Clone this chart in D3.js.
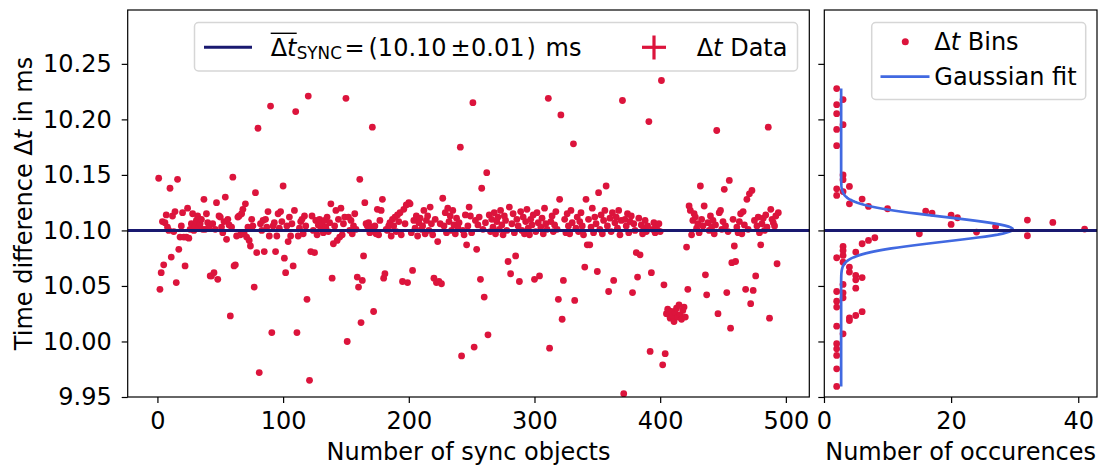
<!DOCTYPE html>
<html>
<head>
<meta charset="utf-8">
<script src="https://cdn.jsdelivr.net/npm/d3@7"></script>
<style>
    body { margin: 0; background: #fff; }
    svg text { font-family: "DejaVu Sans", sans-serif; fill: #000; }
</style>
</head>
<body>
<div id="chart"></div>
<script>
// time difference per sync object (ms), x = 1..N
const syncValues = [
    10.147, 10.047, 10.062, 10.108, 10.069, 10.107, 10.114, 10.103, 10.100, 10.138,
    10.076, 10.113, 10.099, 10.117, 10.053, 10.146, 10.083, 10.094, 10.104, 10.116,
    10.094, 10.068, 10.094, 10.120, 10.093, 10.101, 10.106, 10.115, 10.100, 10.104,
    10.109, 10.113, 10.103, 10.106, 10.110, 10.101, 10.128, 10.101, 10.115, 10.107,
    10.103, 10.059, 10.059, 10.106, 10.062, 10.101, 10.125, 10.056, 10.113, 10.112,
    10.103, 10.098, 10.108, 10.130, 10.092, 10.110, 10.105, 10.023, 10.103, 10.148,
    10.068, 10.069, 10.095, 10.112, 10.113, 10.096, 10.115, 10.119, 10.097, 10.124,
    10.094, 10.103, 10.091, 10.086, 10.110, 10.104, 10.049, 10.134, 10.080, 10.192,
    9.972, 10.106, 10.100, 10.109, 10.081, 10.110, 10.103, 10.117, 10.095, 10.212,
    10.008, 10.104, 10.107, 10.081, 10.095, 10.115, 10.102, 10.117, 10.108, 10.140,
    10.075, 10.062, 10.104, 10.090, 10.112, 10.095, 10.106, 10.068, 10.118, 10.207,
    10.008, 10.095, 10.102, 10.108, 10.110, 10.097, 10.113, 10.104, 10.038, 10.221,
    9.965, 10.081, 10.113, 10.100, 10.080, 10.109, 10.096, 10.105, 10.110, 10.101,
    10.106, 10.098, 10.109, 10.103, 10.112, 10.099, 10.107, 10.124, 10.057, 10.088,
    10.104, 10.118, 10.091, 10.110, 10.094, 10.120, 10.096, 10.106, 10.112, 10.219,
    10.000, 10.112, 10.100, 10.109, 10.097, 10.104, 10.115, 10.101, 10.058, 10.049,
    10.146, 10.017, 10.055, 10.077, 10.125, 10.106, 10.104, 10.107, 10.098, 10.103,
    10.193, 10.027, 10.104, 10.097, 10.119, 10.096, 10.109, 10.118, 10.128, 10.057,
    10.061, 10.101, 10.100, 10.104, 10.107, 10.095, 10.110, 10.104, 10.112, 10.099,
    10.114, 10.108, 10.116, 10.096, 10.054, 10.119, 10.106, 10.123, 10.053, 10.125,
    10.124, 10.098, 10.064, 10.109, 10.102, 10.113, 10.095, 10.107, 10.111, 10.101,
    10.104, 10.118, 10.097, 10.109, 10.113, 10.100, 10.121, 10.106, 10.096, 10.057,
    10.110, 10.053, 10.090, 10.054, 10.106, 10.052, 10.129, 10.104, 10.116, 10.098,
    10.120, 10.108, 10.113, 10.100, 10.118, 10.105, 10.097, 10.111, 10.103, 10.107,
    10.175, 9.987, 10.100, 10.096, 10.114, 10.087, 10.104, 10.121, 10.113, 10.098,
    10.215, 9.995, 10.109, 10.083, 10.105, 10.112, 10.056, 10.138, 10.101, 10.040,
    10.107, 10.152, 10.006, 10.114, 10.099, 10.110, 10.103, 10.116, 10.097, 10.108,
    10.112, 10.101, 10.118, 10.105, 10.096, 10.113, 10.109, 10.100, 10.072, 10.121,
    10.061, 10.106, 10.115, 10.098, 10.077, 10.110, 10.104, 10.054, 10.117, 10.100,
    10.112, 10.097, 10.108, 10.119, 10.102, 10.096, 10.110, 10.105, 10.114, 10.056,
    10.099, 10.116, 10.107, 10.059, 10.103, 10.111, 10.097, 10.120, 10.106, 10.101,
    10.219, 9.994, 10.108, 10.113, 10.099, 10.105, 10.117, 10.101, 10.038, 10.128,
    10.204, 10.020, 10.055, 10.110, 10.098, 10.115, 10.104, 10.097, 10.118, 10.107,
    10.178, 10.037, 10.102, 10.112, 10.099, 10.108, 10.116, 10.104, 10.096, 10.067,
    10.128, 10.087, 10.110, 10.087, 10.103, 10.120, 10.098, 10.112, 10.106, 10.063,
    10.134, 10.101, 10.114, 10.097, 10.109, 10.118, 10.140, 10.104, 10.045, 10.111,
    10.099, 10.116, 10.055, 10.107, 10.112, 10.102, 10.118, 10.096, 10.109, 10.217,
    9.953, 10.110, 10.104, 10.115, 10.098, 10.108, 10.113, 10.044, 10.106, 10.100,
    10.080, 10.058, 10.111, 10.078, 10.105, 10.097, 10.102, 10.109, 10.099, 10.104,
    10.198, 9.991, 10.062, 10.101, 10.107, 10.098, 10.103, 10.100, 10.106, 10.099,
    10.235, 9.979, 10.051, 9.989, 10.025, 10.029, 10.024, 10.021, 10.027, 10.023,
    10.018, 10.026, 10.030, 10.022, 10.033, 10.024, 10.020, 10.028, 10.031, 10.022,
    10.085, 10.047, 10.122, 10.118, 10.096, 10.109, 10.115, 10.112, 10.102, 10.106,
    10.098, 10.140, 10.110, 10.104, 10.122, 10.060, 10.042, 10.107, 10.100, 10.113,
    10.103, 10.109, 10.097, 10.105, 10.190, 10.025, 10.116, 10.118, 10.101, 10.108,
    10.137, 10.104, 10.044, 10.099, 10.145, 10.012, 10.071, 10.110, 10.086, 10.072,
    10.103, 10.098, 10.108, 10.115, 10.097, 10.117, 10.105, 10.047, 10.128, 10.101,
    10.133, 10.034, 10.136, 10.046, 10.109, 10.059, 10.104, 10.112, 10.098, 10.087,
    10.106, 10.111, 10.100, 10.114, 10.103, 10.193, 10.021, 10.119, 10.110, 10.107,
    10.104, 10.113, 10.070, 10.116
];

// histogram bins (centre in ms, number of occurences)
const binCenters = [
    10.2277, 10.2178, 10.2132, 10.2051, 10.1952, 10.1910, 10.1763, 10.1500, 10.1457, 10.1396,
    10.1375, 10.1350, 10.1315, 10.1282, 10.1240, 10.1216, 10.1195, 10.1174, 10.1156, 10.1138,
    10.1114, 10.1093, 10.1072, 10.1054, 10.1036, 10.1012, 10.0985, 10.0970, 10.0952, 10.0934,
    10.0910, 10.0880, 10.0856, 10.0820, 10.0805, 10.0775, 10.0754, 10.0714, 10.0670, 10.0625,
    10.0595, 10.0575, 10.0555, 10.0514, 10.0480, 10.0450, 10.0438, 10.0393, 10.0363, 10.0310,
    10.0268, 10.0234, 10.0213, 10.0189, 10.0138, 10.0069, 9.9980, 9.9934, 9.9874, 9.9754,
    9.9595
];
const binCounts = [
    2, 3, 2, 2, 3, 2, 2, 3, 3, 4,
    2, 3, 2, 6, 4, 7, 10, 16, 17, 20,
    21, 32, 36, 20, 27, 41, 24, 15, 32, 8,
    7, 6, 3, 3, 5, 3, 2, 3, 4, 4,
    5, 6, 5, 3, 5, 2, 3, 3, 2, 2,
    6, 5, 4, 4, 2, 3, 2, 2, 2, 2,
    2
];

// mean line and gaussian fit parameters
const meanSync = 10.10;
const fitOffset = 2.7, fitAmplitude = 27.0, fitMean = 10.101, fitSigma = 0.011;

const yTicks = [9.95, 10.00, 10.05, 10.10, 10.15, 10.20, 10.25];
const xTicksMain = [0, 100, 200, 300, 400, 500];
const xTicksHist = [0, 20, 40];

const width = 1099, height = 465;
const mainBox = {left: 127.7, right: 809.3, top: 10, bottom: 397};
const histBox = {left: 824.3, right: 1097, top: 10, bottom: 397};
const fontSize = 24;
const dotColor = '#dc143c', meanColor = '#191970', fitColor = '#4169e1';

const svg = d3.select('#chart').append('svg')
    .attr('width', width)
    .attr('height', height);

const yScale = d3.scaleLinear()
    .domain([9.95, 10.2985])
    .range([mainBox.bottom, mainBox.top]);

const n = syncValues.length;
const pad = (n - 1) * 0.05;
const xMain = d3.scaleLinear()
    .domain([1 - pad, n + pad])
    .range([mainBox.left, mainBox.right]);

const xHist = d3.scaleLinear()
    .domain([0.05, 42.95])
    .range([histBox.left, histBox.right]);

function styleAxis(g) {
    g.select('.domain').remove();
    g.selectAll('.tick line').attr('stroke', '#000').attr('stroke-width', 1.2);
    g.selectAll('.tick text')
        .attr('font-size', fontSize)
        .attr('font-family', '"DejaVu Sans", sans-serif')
        .attr('fill', '#000');
}

// small helper for legend text pieces
function addText(g, x, y, str, size, italic) {
    return g.append('text')
        .attr('x', x).attr('y', y)
        .attr('font-size', size || fontSize)
        .attr('font-style', italic ? 'italic' : null)
        .text(str);
}

// ---------- main panel ----------
const gMain = svg.append('g');

gMain.append('g')
    .attr('transform', `translate(${mainBox.left},0)`)
    .call(d3.axisLeft(yScale).tickValues(yTicks).tickFormat(d3.format('.2f')).tickSize(6).tickPadding(10))
    .call(styleAxis);

gMain.append('g')
    .attr('transform', `translate(0,${mainBox.bottom})`)
    .call(d3.axisBottom(xMain).tickValues(xTicksMain).tickFormat(d3.format('d')).tickSize(6).tickPadding(9))
    .call(styleAxis);

gMain.append('g')
    .selectAll('circle')
    .data(syncValues)
    .enter()
    .append('circle')
    .attr('cx', (d, i) => xMain(i + 1))
    .attr('cy', d => yScale(d))
    .attr('r', 3.4)
    .attr('fill', dotColor);

gMain.append('line')
    .attr('x1', mainBox.left).attr('x2', mainBox.right)
    .attr('y1', yScale(meanSync)).attr('y2', yScale(meanSync))
    .attr('stroke', meanColor).attr('stroke-width', 3);

gMain.append('rect')
    .attr('x', mainBox.left).attr('y', mainBox.top)
    .attr('width', mainBox.right - mainBox.left).attr('height', mainBox.bottom - mainBox.top)
    .attr('fill', 'none').attr('stroke', '#000').attr('stroke-width', 1.2);

gMain.append('text')
    .attr('x', (mainBox.left + mainBox.right) / 2)
    .attr('y', 460)
    .attr('text-anchor', 'middle')
    .attr('font-size', fontSize)
    .text('Number of sync objects');

const yLabel = gMain.append('text')
    .attr('transform', `translate(32,${(mainBox.top + mainBox.bottom) / 2}) rotate(-90)`)
    .attr('text-anchor', 'middle')
    .attr('font-size', fontSize);
yLabel.append('tspan').text('Time difference \u0394');
yLabel.append('tspan').attr('font-style', 'italic').text('t');
yLabel.append('tspan').text(' in ms');

// legend of main panel
const legMain = gMain.append('g');
legMain.append('rect')
    .attr('x', 194.5).attr('y', 22.5).attr('width', 603).attr('height', 48.5).attr('rx', 4)
    .attr('fill', '#fff').attr('fill-opacity', 0.8).attr('stroke', '#d6d6d6').attr('stroke-width', 1.5);
legMain.append('line')
    .attr('x1', 204).attr('x2', 252).attr('y1', 47.3).attr('y2', 47.3)
    .attr('stroke', meanColor).attr('stroke-width', 3);
legMain.append('line')
    .attr('x1', 270.7).attr('x2', 296.7).attr('y1', 33.3).attr('y2', 33.3)
    .attr('stroke', '#000').attr('stroke-width', 1.4);
addText(legMain, 270.7, 55.5, '\u0394');
addText(legMain, 287.1, 55.5, 't', fontSize, true);
addText(legMain, 296.7, 59.3, 'SYNC', 16.8);
addText(legMain, 344.5, 55.5, '=');
addText(legMain, 368.5, 55.5, '(10.10');
addText(legMain, 450.5, 55.5, '\u00b1');
addText(legMain, 471, 55.5, '0.01');
addText(legMain, 526.5, 55.5, ')');
addText(legMain, 545.5, 55.5, 'ms');

legMain.append('line')
    .attr('x1', 642).attr('x2', 666).attr('y1', 47.3).attr('y2', 47.3)
    .attr('stroke', dotColor).attr('stroke-width', 3.2);
legMain.append('line')
    .attr('x1', 654).attr('x2', 654).attr('y1', 35.5).attr('y2', 59.5)
    .attr('stroke', dotColor).attr('stroke-width', 3.2);
const dataLabel = legMain.append('text').attr('x', 696.7).attr('y', 55.5).attr('font-size', fontSize);
dataLabel.append('tspan').text('\u0394');
dataLabel.append('tspan').attr('font-style', 'italic').text('t');
dataLabel.append('tspan').text(' Data');

// ---------- histogram panel ----------
const gHist = svg.append('g');

gHist.append('g')
    .attr('transform', `translate(${histBox.left},0)`)
    .call(d3.axisLeft(yScale).tickValues(yTicks).tickFormat('').tickSize(6))
    .call(styleAxis);

gHist.append('g')
    .attr('transform', `translate(0,${histBox.bottom})`)
    .call(d3.axisBottom(xHist).tickValues(xTicksHist).tickFormat(d3.format('d')).tickSize(6).tickPadding(9))
    .call(styleAxis);

gHist.append('g')
    .selectAll('circle')
    .data(binCenters)
    .enter()
    .append('circle')
    .attr('cx', (d, i) => xHist(binCounts[i]))
    .attr('cy', d => yScale(d))
    .attr('r', 3.4)
    .attr('fill', dotColor);

// gaussian fit evaluated over the bin range
const binExtent = d3.extent(binCenters);
const fitPoints = d3.range(0, 301).map(k => {
    const v = binExtent[0] + (binExtent[1] - binExtent[0]) * k / 300;
    return [fitOffset + fitAmplitude * Math.exp(-((v - fitMean) ** 2) / (2 * fitSigma ** 2)), v];
});
gHist.append('path')
    .datum(fitPoints)
    .attr('d', d3.line().x(d => xHist(d[0])).y(d => yScale(d[1])))
    .attr('fill', 'none')
    .attr('stroke', fitColor)
    .attr('stroke-width', 2.7);

gHist.append('line')
    .attr('x1', histBox.left).attr('x2', histBox.right)
    .attr('y1', yScale(meanSync)).attr('y2', yScale(meanSync))
    .attr('stroke', meanColor).attr('stroke-width', 3);

gHist.append('rect')
    .attr('x', histBox.left).attr('y', histBox.top)
    .attr('width', histBox.right - histBox.left).attr('height', histBox.bottom - histBox.top)
    .attr('fill', 'none').attr('stroke', '#000').attr('stroke-width', 1.2);

gHist.append('text')
    .attr('x', (histBox.left + histBox.right) / 2)
    .attr('y', 460)
    .attr('text-anchor', 'middle')
    .attr('font-size', fontSize)
    .text('Number of occurences');

// legend of histogram panel
const legHist = gHist.append('g');
legHist.append('rect')
    .attr('x', 871.7).attr('y', 22.5).attr('width', 214).attr('height', 77).attr('rx', 4)
    .attr('fill', '#fff').attr('fill-opacity', 0.8).attr('stroke', '#d6d6d6').attr('stroke-width', 1.5);
legHist.append('circle')
    .attr('cx', 905.3).attr('cy', 41.7).attr('r', 3.5).attr('fill', dotColor);
const binsLabel = legHist.append('text').attr('x', 934.3).attr('y', 49.5).attr('font-size', fontSize);
binsLabel.append('tspan').text('\u0394');
binsLabel.append('tspan').attr('font-style', 'italic').text('t');
binsLabel.append('tspan').text(' Bins');
legHist.append('line')
    .attr('x1', 880.5).attr('x2', 929.5).attr('y1', 76.7).attr('y2', 76.7)
    .attr('stroke', fitColor).attr('stroke-width', 2.7);
legHist.append('text')
    .attr('x', 934.3).attr('y', 84.5)
    .attr('font-size', fontSize)
    .text('Gaussian fit');
</script>
</body>
</html>
